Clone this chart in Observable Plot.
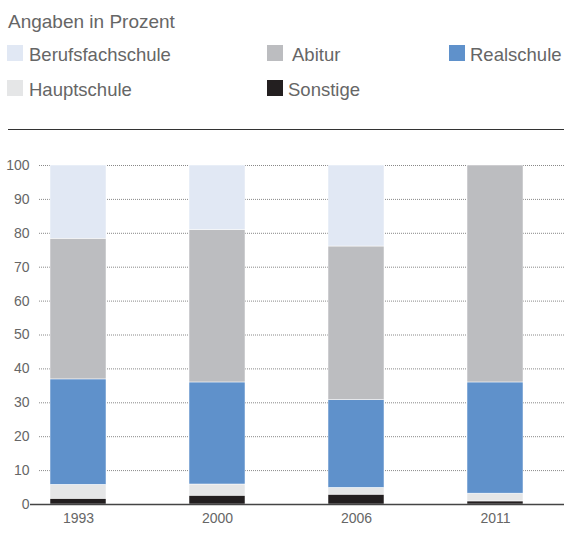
<!DOCTYPE html>
<html>
<head>
<meta charset="utf-8">
<script src="https://cdn.jsdelivr.net/npm/d3@7"></script>
<script src="https://cdn.jsdelivr.net/npm/@observablehq/plot@0.6"></script>
<style>
  body { margin: 0; background: white; width: 564px; height: 536px; position: relative; overflow: hidden;
         font-family: "Liberation Sans", Arial, sans-serif; color: #666; }
  #title { position: absolute; left: 8px; top: 10px; font-size: 19px; line-height: 24px; }
  .leg { position: absolute; font-size: 18.5px; line-height: 20px; white-space: nowrap; }
  .sw { position: absolute; width: 16px; height: 16px; }
  #hr { position: absolute; left: 8px; right: 0; top: 129px; border-top: 1.5px solid #333; }
  #chart { position: absolute; left: 0; top: 140px; }
</style>
</head>
<body>
<div id="title">Angaben in Prozent</div>
<div id="legend"></div>
<div id="hr"></div>
<div id="chart"></div>
<script>
const years = ["1993", "2000", "2006", "2011"];
const seriesNames = ["Berufsfachschule", "Abitur", "Realschule", "Hauptschule", "Sonstige"];
const seriesColors = ["#e1e8f4", "#bcbdc0", "#5f91cb", "#e5e6e7", "#231f20"];
const stackOrder = ["Sonstige", "Hauptschule", "Realschule", "Abitur", "Berufsfachschule"];
const sonstige = [1.7, 2.6, 2.9, 0.9];
const hauptschule = [4.1, 3.3, 2.0, 2.3];
const realschule = [31.1, 30.1, 25.9, 32.8];
const abitur = [41.5, 45.0, 45.3, 64.0];
const berufsfachschule = [21.6, 19.0, 23.9, 0];
const yTicks = [0, 10, 20, 30, 40, 50, 60, 70, 80, 90, 100];

const seriesValues = {
  "Sonstige": sonstige,
  "Hauptschule": hauptschule,
  "Realschule": realschule,
  "Abitur": abitur,
  "Berufsfachschule": berufsfachschule
};
const data = [];
years.forEach((year, i) => {
  stackOrder.forEach(s => data.push({year, series: s, value: seriesValues[s][i]}));
});

// legend (HTML)
const legendPos = [
  {x: 7, y: 53}, {x: 267, y: 53}, {x: 449, y: 53},
  {x: 7, y: 88}, {x: 267, y: 88}
];
const textOffset = [22, 25, 21, 22, 21];
const legend = document.getElementById("legend");
seriesNames.forEach((name, i) => {
  const p = legendPos[i];
  const sw = document.createElement("div");
  sw.className = "sw";
  sw.style.left = p.x + "px";
  sw.style.top = (p.y - 8) + "px";
  sw.style.background = seriesColors[i];
  legend.appendChild(sw);
  const t = document.createElement("div");
  t.className = "leg";
  t.style.left = (p.x + textOffset[i]) + "px";
  t.style.top = (p.y - 8) + "px";
  t.textContent = name;
  legend.appendChild(t);
});

const plot = Plot.plot({
  width: 564,
  height: 396,
  marginTop: 25,
  marginBottom: 32,
  marginLeft: 30,
  marginRight: 0,
  style: {fontFamily: "'Liberation Sans', Arial, sans-serif", fontSize: "13px", color: "#666", background: "white"},
  x: {domain: years, range: [49, 524], paddingInner: 0.6, paddingOuter: 0, label: null},
  y: {domain: [0, 100], label: null},
  color: {domain: seriesNames, range: seriesColors},
  marks: [
    Plot.ruleY(yTicks, {stroke: "#888", strokeDasharray: "1,1", insetLeft: 9}),
    Plot.barY(data, Plot.stackY({order: stackOrder}, {x: "year", y: "value", fill: "series", stroke: "white", strokeWidth: 0.5})),
    Plot.ruleY([0], {stroke: "#444", strokeWidth: 1.5}),
    Plot.axisY({ticks: yTicks, tickSize: 0, tickPadding: 1, fontSize: 14, label: null}),
    Plot.axisX({tickSize: 0, tickPadding: 9, fontSize: 14, label: null})
  ]
});
document.getElementById("chart").appendChild(plot);
</script>
</body>
</html>
